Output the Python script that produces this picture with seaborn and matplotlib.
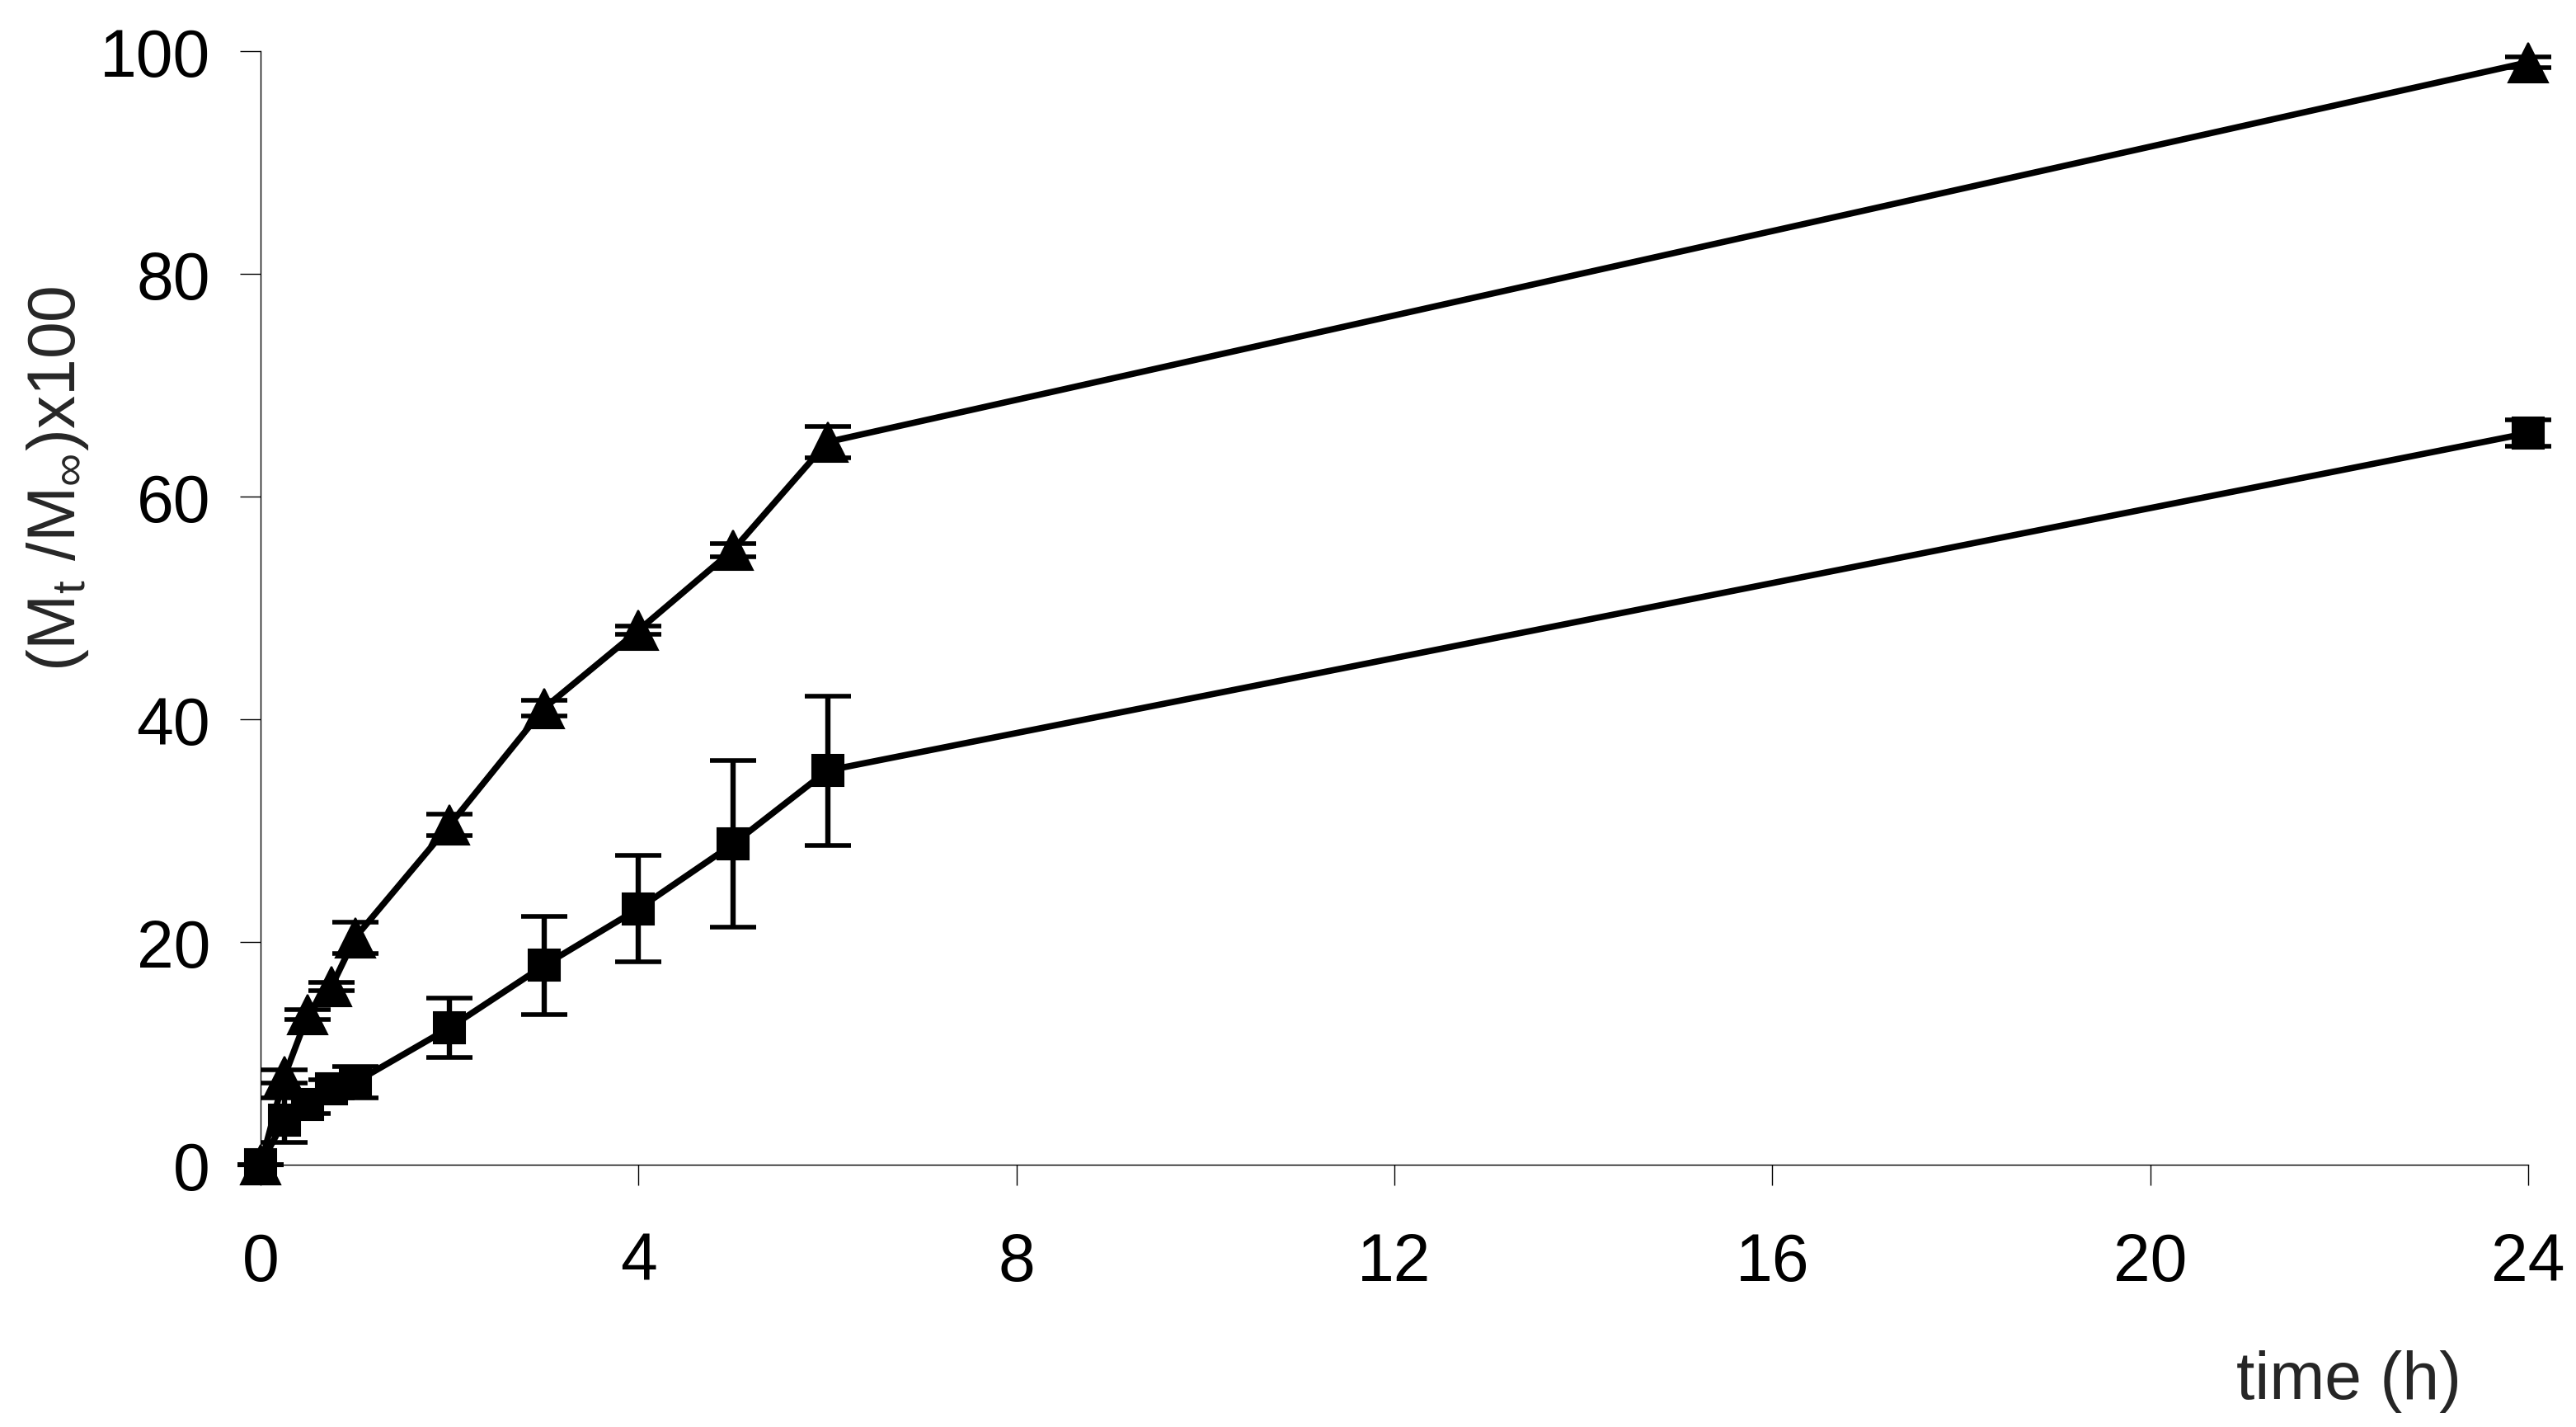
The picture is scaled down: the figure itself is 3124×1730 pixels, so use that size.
import matplotlib
matplotlib.use("Agg")
import matplotlib.pyplot as plt
import seaborn as sns
import pandas as pd

# estilo limpo, sem grade
sns.set_style("ticks")
plt.rcParams["font.family"] = ["Liberation Sans", "DejaVu Sans"]
plt.rcParams["mathtext.default"] = "regular"

# tempos de coleta (h)
tempo = [0, 0.25, 0.5, 0.75, 1, 2, 3, 4, 5, 6, 24]

# serie com triangulos
triangulo = [0, 7.9, 13.5, 16.0, 20.4, 30.5, 41.0, 48.0, 55.2, 64.9, 99.0]
triangulo_err = [0, 0.6, 0.45, 0.35, 1.4, 0.95, 0.7, 0.4, 0.6, 1.4, 0.5]

# serie com quadrados
quadrado = [0, 4.0, 5.4, 6.8, 7.4, 12.3, 17.9, 23.0, 28.8, 35.4, 65.7]
quadrado_err = [0, 2.0, 0.8, 0.8, 1.4, 2.7, 4.4, 4.8, 7.5, 6.7, 1.2]

df_tri = pd.DataFrame({"tempo": tempo, "liberado": triangulo})
df_quad = pd.DataFrame({"tempo": tempo, "liberado": quadrado})

fig, ax = plt.subplots(figsize=(31.24, 17.31), dpi=100)
fig.subplots_adjust(left=0.1012, right=0.9814, bottom=0.1837, top=0.9636)

# barras de erro primeiro, marcadores por cima
for y, e in [(triangulo, triangulo_err), (quadrado, quadrado_err)]:
    ax.errorbar(tempo, y, yerr=e, fmt="none", ecolor="black",
                elinewidth=4.6, capsize=20, capthick=4, zorder=2)

sns.lineplot(data=df_tri, x="tempo", y="liberado", color="black", linewidth=5.5,
             marker="^", markersize=35, markeredgewidth=1.5,
             markeredgecolor="black", ax=ax, zorder=3)
sns.lineplot(data=df_quad, x="tempo", y="liberado", color="black", linewidth=5.5,
             marker="s", markersize=27, markeredgewidth=1.5,
             markeredgecolor="black", ax=ax, zorder=3)
for linha in ax.lines:
    linha.set_clip_on(False)
    linha.set_solid_joinstyle("round")

ax.set_xlim(0, 24)
ax.set_ylim(0, 100)
ax.set_xticks(range(0, 25, 4))
ax.set_yticks(range(0, 101, 20))
ax.set_xlabel("")
ax.set_ylabel("")
sns.despine(ax=ax)
for s in ["left", "bottom"]:
    ax.spines[s].set_linewidth(1.0)
    ax.spines[s].set_color("black")

ax.tick_params(axis="both", direction="out", length=18, width=1,
               colors="black", labelsize=58)
ax.tick_params(axis="y", pad=26)
ax.tick_params(axis="x", pad=40)

fig.text(0.9117, 0.0324, "time (h)", fontsize=58, ha="center", va="center")
fig.text(0.0224, 0.665, r"(M$_{t}$ /M$_{\infty}$)x100", fontsize=58,
         rotation=90, ha="center", va="center")

plt.savefig("out.png", dpi=100)
plt.close()
